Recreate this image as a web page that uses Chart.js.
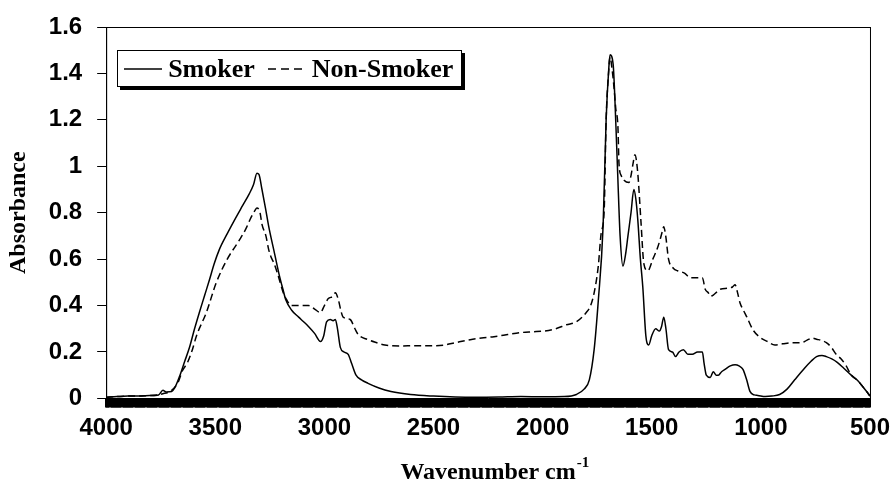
<!DOCTYPE html>
<html>
<head>
<meta charset="utf-8">
<script src="https://cdn.jsdelivr.net/npm/chart.js@4/dist/chart.umd.min.js"></script>
<style>
    html, body { margin: 0; padding: 0; background: #fff; overflow: hidden; }
    #wrap { position: relative; width: 890px; height: 496px; }
    #legend {
        position: absolute;
        display: flex;
        align-items: center;
        height: 35px;
        padding: 0 8px 0 6px;
        border: 1px solid #000;
        background: #fff;
        box-shadow: 3px 3px 0 #000;
        font: bold 26px "Liberation Serif", "Times New Roman", serif;
        color: #000;
        white-space: nowrap;
    }
    #legend .item { display: flex; align-items: center; }
    #legend .item + .item { margin-left: 13px; }
    #legend svg { margin-right: 6px; }
</style>
</head>
<body>
<div id="wrap">
    <canvas id="chart" width="890" height="496"></canvas>
    <div id="legend"></div>
</div>
<script>
const seriesNames = ["Smoker", "Non-Smoker"];
const xTitle = "Wavenumber cm";
const xTitleSup = "-1";
const yTitle = "Absorbance";
const xTickLabels = [4000, 3500, 3000, 2500, 2000, 1500, 1000, 500];
const yTickLabels = [0, 0.2, 0.4, 0.6, 0.8, 1, 1.2, 1.4, 1.6];

const smokerWn = [
    4000, 3950, 3900, 3850, 3800, 3760, 3740, 3725, 3700, 3686, 3664, 3640, 3618, 3595, 3573, 3550,
    3527, 3505, 3482, 3445, 3405, 3375, 3345, 3325, 3309, 3300, 3286, 3270, 3255, 3232, 3209, 3190,
    3177, 3150, 3118, 3095, 3073, 3045, 3018, 3003, 2990, 2973, 2960, 2950, 2940, 2927, 2910, 2891,
    2875, 2855, 2830, 2800, 2750, 2695, 2605, 2500, 2400, 2300, 2200, 2100, 2000, 1900, 1845, 1810,
    1786, 1764, 1745, 1723, 1709, 1697, 1691, 1677, 1664, 1655, 1645, 1632, 1620, 1609, 1595, 1582,
    1573, 1564, 1552, 1541, 1527, 1514, 1500, 1482, 1465, 1455, 1445, 1435, 1423, 1405, 1391, 1375,
    1355, 1335, 1314, 1290, 1268, 1260, 1250, 1232, 1218, 1205, 1195, 1180, 1164, 1140, 1118, 1100,
    1082, 1065, 1050, 1030, 1014, 980, 950, 914, 880, 845, 800, 770, 745, 720, 700, 675,
    650, 620, 586, 560, 541, 520, 505, 500
];
const smokerAbs = [
    0.005, 0.008, 0.01, 0.01, 0.012, 0.015, 0.035, 0.028, 0.03, 0.045, 0.094, 0.16, 0.22, 0.3, 0.37, 0.44,
    0.51, 0.58, 0.64, 0.71, 0.78, 0.83, 0.88, 0.92, 0.97, 0.965, 0.9, 0.82, 0.74, 0.64, 0.54, 0.47,
    0.425, 0.38, 0.35, 0.33, 0.31, 0.28, 0.245, 0.27, 0.33, 0.34, 0.335, 0.34, 0.3, 0.22, 0.2, 0.19,
    0.15, 0.1, 0.08, 0.065, 0.045, 0.03, 0.017, 0.01, 0.006, 0.005, 0.006, 0.008, 0.007, 0.008, 0.017, 0.04,
    0.08, 0.21, 0.42, 0.74, 1.2, 1.42, 1.48, 1.44, 1.17, 0.94, 0.7, 0.57, 0.62, 0.7, 0.8, 0.9,
    0.86, 0.77, 0.6, 0.48, 0.27, 0.23, 0.27, 0.3, 0.29, 0.31, 0.35, 0.3, 0.21, 0.2, 0.18, 0.2,
    0.21, 0.19, 0.19, 0.2, 0.2, 0.15, 0.1, 0.09, 0.115, 0.1, 0.1, 0.115, 0.125, 0.14, 0.145, 0.14,
    0.125, 0.08, 0.03, 0.015, 0.013, 0.008, 0.01, 0.017, 0.04, 0.08, 0.13, 0.16, 0.18, 0.185, 0.18, 0.17,
    0.155, 0.13, 0.1, 0.08, 0.06, 0.035, 0.017, 0.01
];

const nonSmokerWn = [
    4000, 3900, 3800, 3740, 3700, 3670, 3650, 3627, 3605, 3586, 3541, 3495, 3445, 3391, 3360, 3336,
    3318, 3309, 3295, 3286, 3268, 3255, 3245, 3230, 3209, 3190, 3173, 3150, 3132, 3100, 3073, 3045,
    3018, 3000, 2982, 2960, 2950, 2936, 2925, 2914, 2882, 2860, 2845, 2800, 2760, 2723, 2650, 2586,
    2500, 2450, 2400, 2332, 2280, 2223, 2160, 2105, 2050, 1995, 1940, 1891, 1845, 1800, 1780, 1764,
    1745, 1732, 1718, 1709, 1698, 1691, 1682, 1673, 1665, 1655, 1650, 1640, 1627, 1605, 1595, 1586,
    1577, 1564, 1550, 1536, 1518, 1495, 1473, 1460, 1450, 1445, 1436, 1423, 1400, 1382, 1350, 1323,
    1286, 1268, 1255, 1241, 1232, 1218, 1200, 1186, 1150, 1130, 1118, 1108, 1095, 1080, 1064, 1036,
    1000, 970, 936, 900, 859, 814, 790, 764, 745, 723, 700, 677, 655, 632, 609, 586,
    560, 541, 520, 505, 500
];
const nonSmokerAbs = [
    0.005, 0.01, 0.012, 0.02, 0.035, 0.07, 0.12, 0.155, 0.21, 0.27, 0.37, 0.5, 0.6, 0.68, 0.73, 0.78,
    0.81, 0.82, 0.8, 0.75, 0.7, 0.64, 0.61, 0.58, 0.52, 0.46, 0.425, 0.4, 0.4, 0.4, 0.4, 0.385,
    0.37, 0.4, 0.43, 0.44, 0.455, 0.425, 0.38, 0.35, 0.34, 0.3, 0.275, 0.253, 0.24, 0.23, 0.226, 0.227,
    0.227, 0.23, 0.24, 0.253, 0.26, 0.266, 0.275, 0.283, 0.287, 0.29, 0.3, 0.317, 0.33, 0.37, 0.4, 0.455,
    0.57, 0.71, 0.81, 1.2, 1.4, 1.47, 1.42, 1.34, 1.25, 1.17, 1.01, 0.96, 0.94, 0.93, 0.96, 1.01,
    1.05, 0.97, 0.77, 0.58, 0.55, 0.6, 0.65, 0.69, 0.725, 0.74, 0.7, 0.6, 0.56, 0.55, 0.54, 0.52,
    0.52, 0.52, 0.47, 0.455, 0.44, 0.445, 0.46, 0.47, 0.475, 0.48, 0.49, 0.46, 0.41, 0.38, 0.35, 0.295,
    0.26, 0.245, 0.23, 0.235, 0.24, 0.24, 0.25, 0.26, 0.255, 0.25, 0.24, 0.22, 0.19, 0.17, 0.14, 0.1,
    0.08, 0.06, 0.035, 0.017, 0.01
];

const SANS = '"Liberation Sans", Arial, sans-serif';
const SERIF = '"Liberation Serif", "Times New Roman", serif';

function toPoints(xs, ys) {
    return xs.map((x, i) => ({ x, y: ys[i] }));
}

// box round the plot area and the superscript of the x title
const frame = {
    id: "frame",
    afterDraw(chart) {
        const { ctx, chartArea: a, scales } = chart;
        ctx.save();
        ctx.strokeStyle = "#000";
        ctx.lineWidth = 1;
        ctx.strokeRect(a.left + 0.5, a.top + 0.5, a.right - a.left, a.bottom - a.top);

        const sx = scales.x;
        const title = sx.options.title;
        ctx.font = "bold 24px " + SERIF;
        const w = ctx.measureText(xTitle).width;
        const cx = (sx.left + sx.right) / 2;
        const cy = sx.bottom - title.padding.bottom - 14.4;
        ctx.font = "bold 15px " + SERIF;
        ctx.fillStyle = "#000";
        ctx.textAlign = "left";
        ctx.textBaseline = "middle";
        ctx.fillText(xTitleSup, cx + w / 2 + 1, cy - 9);
        ctx.restore();
    },
};

const chart = new Chart(document.getElementById("chart"), {
    type: "line",
    data: {
        datasets: [
            {
                label: seriesNames[0],
                data: toPoints(smokerWn, smokerAbs),
                borderColor: "#000",
                borderWidth: 1.5,
                pointRadius: 0,
                cubicInterpolationMode: "monotone",
            },
            {
                label: seriesNames[1],
                data: toPoints(nonSmokerWn, nonSmokerAbs),
                borderColor: "#000",
                borderWidth: 1.5,
                borderDash: [7, 4],
                pointRadius: 0,
                cubicInterpolationMode: "monotone",
            },
        ],
    },
    options: {
        responsive: false,
        animation: false,
        events: [],
        layout: { padding: { left: 2, right: 0, top: 20, bottom: 5 } },
        plugins: {
            legend: { display: false },
            tooltip: { enabled: false },
        },
        scales: {
            x: {
                type: "linear",
                reverse: true,
                min: 500,
                max: 4000,
                // keep only the half width of the "500" label on the right
                afterFit: (scale) => {
                    scale.paddingRight = Math.max(scale.paddingRight - scale.options.ticks.padding, 0);
                },
                grid: {
                    drawOnChartArea: false,
                    tickLength: 9,
                    color: "#000",
                    lineWidth: 2,
                },
                border: { color: "#000", width: 1 },
                ticks: {
                    stepSize: 5,
                    autoSkip: false,
                    maxRotation: 0,
                    minRotation: 0,
                    padding: 7,
                    color: "#000",
                    font: { family: SANS, size: 24, weight: "bold" },
                    callback: (v) => (xTickLabels.includes(Math.round(v)) ? String(Math.round(v)) : ""),
                },
                title: {
                    display: true,
                    text: xTitle,
                    color: "#000",
                    padding: { top: 8, bottom: 4 },
                    font: { family: SERIF, size: 24, weight: "bold" },
                },
            },
            y: {
                min: 0,
                max: 1.6,
                grid: {
                    drawOnChartArea: false,
                    tickLength: 9,
                    color: "#000",
                    lineWidth: 1,
                },
                border: { color: "#000", width: 1 },
                ticks: {
                    stepSize: 0.2,
                    padding: 15,
                    color: "#000",
                    font: { family: SANS, size: 24, weight: "bold", lineHeight: 1 },
                    callback: (v) => {
                        const r = Math.round(v * 10) / 10;
                        return yTickLabels.includes(r) ? String(r) : "";
                    },
                },
                title: {
                    display: true,
                    text: yTitle,
                    color: "#000",
                    padding: { top: 2, bottom: 1 },
                    font: { family: SERIF, size: 24, weight: "bold" },
                },
            },
        },
    },
    plugins: [frame],
});

// legend drawn as html inside the plot area
const legend = document.getElementById("legend");
chart.data.datasets.forEach((ds) => {
    const item = document.createElement("div");
    item.className = "item";
    const dash = ds.borderDash ? ' stroke-dasharray="8,5"' : "";
    item.innerHTML =
        '<svg width="38" height="4"><line x1="0" y1="2" x2="38" y2="2" stroke="#000" stroke-width="1.5"' +
        dash + "/></svg><span>" + ds.label + "</span>";
    legend.appendChild(item);
});
legend.style.left = chart.chartArea.left + 11 + "px";
legend.style.top = chart.chartArea.top + 23 + "px";
</script>
</body>
</html>
